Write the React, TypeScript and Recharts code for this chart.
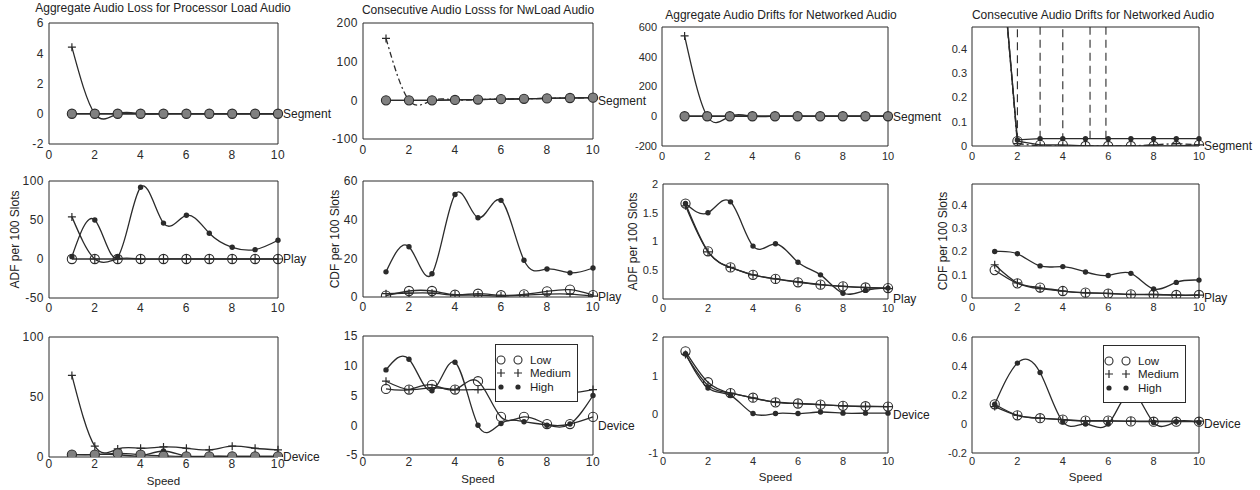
import { Line, LineChart, ReferenceArea, ReferenceLine, XAxis, YAxis } from 'recharts';

const INK = '#2b2b2b';
const FONT = '"Liberation Sans", Arial, Helvetica, sans-serif';

const speed = [1, 2, 3, 4, 5, 6, 7, 8, 9, 10];
const xTicks = [0, 2, 4, 6, 8, 10];
const legendNames = ['Low', 'Medium', 'High'];

// row 1: per segment
const aggLossSegLow = [0, 0, 0, 0, 0, 0, 0, 0, 0, 0];
const aggLossSegMed = [4.4, 0, 0, 0, 0, 0, 0, 0, 0, 0];
const aggLossSegHigh = [0, 0, 0, 0, 0, 0, 0, 0, 0, 0];

const conLossSegLow = [0, 0, 0, 1, 2, 3, 4, 5, 6, 7];
const conLossSegMed = [160, 0, 0, 1, 2, 3, 4, 5, 6, 7];
const conLossSegHigh = [0, 0, 0, 1, 2, 3, 4, 5, 6, 7];

const aggDriftSegLow = [0, 0, 0, 0, 0, 0, 0, 0, 0, 0];
const aggDriftSegMed = [540, 0, 0, 0, 0, 0, 0, 0, 0, 0];
const aggDriftSegHigh = [0, 0, 0, 0, 0, 0, 0, 0, 0, 0];

const conDriftSegLow = [1.1, 0.02, 0.005, 0.005, 0, 0, 0, 0, 0, 0.005];
const conDriftSegMed = [1.1, 0.01, 0, 0, 0, 0, 0, 0.005, 0.01, 0.005];
const conDriftSegHigh = [1.1, 0.025, 0.03, 0.03, 0.03, 0.03, 0.03, 0.03, 0.03, 0.03];
const conDriftSpikeX = [2, 3, 4, 5.2, 5.9];
const conDriftSpikeBase = [0.02, 0.03, 0.02, 0.03, 0.03];

// row 2: per play
const aggLossPlayLow = [0, 0, 0, 0, 0, 0, 0, 0, 0, 0];
const aggLossPlayMed = [54, 0, 0, 0, 0, 0, 0, 0, 0, 0];
const aggLossPlayHigh = [3, 50, 3, 92, 46, 56, 33, 15, 12, 24];

const conLossPlayLow = [0.7, 3.1, 3.1, 1.2, 1.7, 0.9, 1.4, 2.9, 3.8, 1];
const conLossPlayMed = [1.7, 2, 2, 1, 1, 0.5, 1, 1.5, 1.5, 0.5];
const conLossPlayHigh = [13, 26, 12, 53, 41, 50, 19, 14.5, 12.5, 15];

const aggDriftPlayLow = [1.66, 0.83, 0.55, 0.42, 0.35, 0.29, 0.25, 0.22, 0.2, 0.19];
const aggDriftPlayMed = [1.62, 0.82, 0.55, 0.42, 0.35, 0.3, 0.25, 0.22, 0.2, 0.18];
const aggDriftPlayHigh = [1.66, 1.5, 1.69, 0.92, 0.96, 0.64, 0.42, 0.1, 0.15, 0.19];

const conDriftPlayLow = [0.12, 0.063, 0.045, 0.03, 0.023, 0.019, 0.016, 0.015, 0.013, 0.013];
const conDriftPlayMed = [0.143, 0.065, 0.04, 0.03, 0.022, 0.02, 0.015, 0.015, 0.012, 0.012];
const conDriftPlayHigh = [0.2, 0.19, 0.138, 0.135, 0.112, 0.097, 0.106, 0.039, 0.067, 0.077];

// row 3: per device
const aggLossDevLow = [2, 2, 3, 2, 1, 0.5, 0.5, 0.5, 0.5, 0.5];
const aggLossDevMed = [68, 9, 6.7, 7.3, 8.4, 7.3, 6, 9, 7.3, 6];
const aggLossDevHigh = [2, 2, 2, 1, 5, 0.5, 0.5, 0.5, 0.5, 0.5];

const conLossDevLow = [6.1, 6, 6.8, 6, 7.4, 1.4, 1.4, 0.2, 0.2, 1.4];
const conLossDevMed = [7.4, 6, 6.3, 6, 6, 6, 6, 6, 5.5, 6];
const conLossDevHigh = [9.3, 11.1, 5.8, 10.6, 0, 0.3, 0.6, 0, 0.2, 5];

const aggDriftDevLow = [1.63, 0.83, 0.55, 0.43, 0.31, 0.28, 0.25, 0.22, 0.21, 0.2];
const aggDriftDevMed = [1.55, 0.75, 0.55, 0.42, 0.32, 0.28, 0.25, 0.22, 0.2, 0.2];
const aggDriftDevHigh = [1.57, 0.68, 0.49, 0.02, 0.02, 0.02, 0.06, 0.03, 0.03, 0.03];

const conDriftDevLow = [0.136, 0.06, 0.04, 0.03, 0.023, 0.023, 0.018, 0.016, 0.016, 0.016];
const conDriftDevMed = [0.12, 0.06, 0.04, 0.03, 0.02, 0.02, 0.02, 0.02, 0.02, 0.02];
const conDriftDevHigh = [0.136, 0.42, 0.355, 0.016, 0, 0, 0.22, 0.01, 0.016, 0.01];

type Panel = {
  title?: string;
  titleX?: number;
  titleY?: number;
  l: number;
  t: number;
  r: number;
  b: number;
  clipR: number;
  yDomain: [number, number];
  yTicks: number[];
  low: number[];
  med: number[];
  high: number[];
  tag: string;
  yLabel?: string;
  yLabelOffset?: number;
  xLabel?: boolean;
  tickGap: number;
  small?: boolean;
  curve: 'natural' | 'linear';
  medDash?: string;
  filled?: boolean;
  spikeX?: number[];
  spikeBase?: number[];
};

const panels: Panel[] = [
  { title: 'Aggregate Audio Loss for Processor Load Audio', titleX: 163, titleY: 8, l: 49, t: 23, r: 278, b: 144, clipR: 336, yDomain: [-2, 6], yTicks: [-2, 0, 2, 4, 6], low: aggLossSegLow, med: aggLossSegMed, high: aggLossSegHigh, tag: 'Segment', tickGap: 6, curve: 'natural', filled: true },
  { title: 'Consecutive Audio Losss for NwLoad Audio', titleX: 478, titleY: 10, l: 363, t: 23, r: 593, b: 139, clipR: 650, yDomain: [-100, 200], yTicks: [-100, 0, 100, 200], low: conLossSegLow, med: conLossSegMed, high: conLossSegHigh, tag: 'Segment', tickGap: 6, curve: 'natural', medDash: '6 3 2 3', filled: true },
  { title: 'Aggregate Audio Drifts for Networked Audio', titleX: 781, titleY: 15, l: 662, t: 27, r: 888, b: 146, clipR: 946, yDomain: [-200, 600], yTicks: [-200, 0, 200, 400, 600], low: aggDriftSegLow, med: aggDriftSegMed, high: aggDriftSegHigh, tag: 'Segment', tickGap: 6, small: true, curve: 'natural', filled: true },
  { title: 'Consecutive Audio Drifts for Networked Audio', titleX: 1093, titleY: 15, l: 972, t: 27, r: 1199, b: 146, clipR: 1260, yDomain: [0, 0.49], yTicks: [0, 0.1, 0.2, 0.3, 0.4], low: conDriftSegLow, med: conDriftSegMed, high: conDriftSegHigh, tag: 'Segment', tickGap: 6, small: true, curve: 'linear', medDash: '6 3 2 3', spikeX: conDriftSpikeX, spikeBase: conDriftSpikeBase },

  { l: 49, t: 181, r: 278, b: 298, clipR: 336, yDomain: [-50, 100], yTicks: [-50, 0, 50, 100], low: aggLossPlayLow, med: aggLossPlayMed, high: aggLossPlayHigh, tag: 'Play', yLabel: 'ADF per 100 Slots', yLabelOffset: 10, tickGap: 5, curve: 'natural' },
  { l: 363, t: 181, r: 593, b: 297, clipR: 650, yDomain: [0, 60], yTicks: [0, 20, 40, 60], low: conLossPlayLow, med: conLossPlayMed, high: conLossPlayHigh, tag: 'Play', yLabel: 'CDF per 100 Slots', yLabelOffset: 16, tickGap: 5, curve: 'natural' },
  { l: 663, t: 184, r: 888, b: 299, clipR: 946, yDomain: [0, 2], yTicks: [0, 0.5, 1, 1.5, 2], low: aggDriftPlayLow, med: aggDriftPlayMed, high: aggDriftPlayHigh, tag: 'Play', yLabel: 'ADF per 100 Slots', yLabelOffset: 14, tickGap: 5, small: true, curve: 'natural' },
  { l: 972, t: 184, r: 1199, b: 298, clipR: 1260, yDomain: [0, 0.49], yTicks: [0, 0.1, 0.2, 0.3, 0.4], low: conDriftPlayLow, med: conDriftPlayMed, high: conDriftPlayHigh, tag: 'Play', yLabel: 'CDF per 100 Slots', yLabelOffset: 15, tickGap: 5, small: true, curve: 'natural' },

  { l: 49, t: 337, r: 278, b: 457, clipR: 336, yDomain: [0, 100], yTicks: [0, 50, 100], low: aggLossDevLow, med: aggLossDevMed, high: aggLossDevHigh, tag: 'Device', xLabel: true, tickGap: 2, curve: 'natural', filled: true },
  { l: 363, t: 336, r: 593, b: 455, clipR: 650, yDomain: [-5, 15], yTicks: [-5, 0, 5, 10, 15], low: conLossDevLow, med: conLossDevMed, high: conLossDevHigh, tag: 'Device', xLabel: true, tickGap: 2, curve: 'natural' },
  { l: 663, t: 337, r: 888, b: 453, clipR: 946, yDomain: [-1, 2], yTicks: [-1, 0, 1, 2], low: aggDriftDevLow, med: aggDriftDevMed, high: aggDriftDevHigh, tag: 'Device', xLabel: true, tickGap: 4, small: true, curve: 'natural' },
  { l: 972, t: 337, r: 1199, b: 453, clipR: 1260, yDomain: [-0.2, 0.6], yTicks: [-0.2, 0, 0.2, 0.4, 0.6], low: conDriftDevLow, med: conDriftDevMed, high: conDriftDevHigh, tag: 'Device', xLabel: true, tickGap: 4, small: true, curve: 'natural' },
];

const tickLarge = { fill: '#2a2a2a', fontSize: 12, fontFamily: FONT, letterSpacing: 0.5 };
const tickSmall = { fill: '#2a2a2a', fontSize: 11, fontFamily: FONT };
const labelText = { fill: '#222', fontSize: 12, fontFamily: FONT };

const circleDot = (fill: string) => (p: any) => (
  <circle key={`c${p.index}`} cx={p.cx} cy={p.cy} r={4.6} fill={fill} stroke={INK} strokeWidth={1.1} />
);
const plusDot = (p: any) => (
  <path key={`p${p.index}`} d={`M${p.cx - 4},${p.cy}h8M${p.cx},${p.cy - 4}v8`} stroke={INK} strokeWidth={1.2} />
);
const starDot = (p: any) => <circle key={`s${p.index}`} cx={p.cx} cy={p.cy} r={2.7} fill={INK} />;

function PanelChart({ p }: { p: Panel }) {
  const YW = 44;
  const TOP = 6;
  const XH = 32;
  const x0 = p.l - YW;
  const width = p.clipR - x0;
  const height = TOP + (p.b - p.t) + XH;
  const rows = speed.map((s, i) => ({ speed: s, low: p.low[i], med: p.med[i], high: p.high[i] }));
  const tick = p.small ? tickSmall : tickLarge;
  return (
    <div style={{ position: 'absolute', left: x0, top: p.t - TOP }}>
      <LineChart width={width} height={height} data={rows} margin={{ top: TOP, right: p.clipR - p.r, bottom: 0, left: 0 }}>
        <XAxis
          dataKey="speed"
          type="number"
          domain={[0, 10]}
          ticks={xTicks}
          interval={0}
          height={XH}
          axisLine={false}
          tickLine={false}
          tickSize={0}
          tickMargin={p.tickGap}
          tick={tick}
          label={
            p.xLabel
              ? { value: 'Speed', position: 'insideBottom', offset: 4, ...labelText, fontSize: 11.5, style: { fill: '#222' } }
              : undefined
          }
        />
        <YAxis
          type="number"
          domain={p.yDomain}
          ticks={p.yTicks}
          interval={0}
          allowDataOverflow
          width={YW}
          axisLine={false}
          tickLine={false}
          tickSize={0}
          tickMargin={5}
          tick={tick}
          label={
            p.yLabel
              ? { value: p.yLabel, angle: -90, position: 'insideLeft', offset: p.yLabelOffset, ...labelText, style: { textAnchor: 'middle', fill: '#222' } }
              : undefined
          }
        />
        <ReferenceArea x1={0} x2={10} y1={p.yDomain[0]} y2={p.yDomain[1]} fill="none" stroke={INK} strokeWidth={1} />
        {p.spikeX &&
          p.spikeX.map((x, i) => (
            <ReferenceLine
              key={`sp${i}`}
              segment={[{ x, y: p.spikeBase![i] }, { x, y: p.yDomain[1] }]}
              stroke={INK}
              strokeWidth={1.1}
              strokeDasharray="8 5"
            />
          ))}
        <ReferenceLine y={0} stroke="transparent" label={{ value: p.tag, position: 'right', offset: 5, ...labelText }} />
        <Line type={p.curve} dataKey="high" stroke={INK} strokeWidth={1.3} dot={starDot} activeDot={false} isAnimationActive={false} />
        <Line type={p.curve} dataKey="med" stroke={INK} strokeWidth={1.3} strokeDasharray={p.medDash} dot={plusDot} activeDot={false} isAnimationActive={false} />
        <Line type={p.curve} dataKey="low" stroke={INK} strokeWidth={1.3} dot={circleDot(p.filled ? '#808080' : 'none')} activeDot={false} isAnimationActive={false} />
      </LineChart>
    </div>
  );
}

function LegendBox({ left, top }: { left: number; top: number }) {
  return (
    <div
      style={{
        position: 'absolute',
        left,
        top,
        width: 83,
        height: 58,
        boxSizing: 'border-box',
        border: `1px solid ${INK}`,
        background: '#fff',
        paddingTop: 8,
        fontSize: 11.5,
        color: '#222',
      }}
    >
      {legendNames.map((name, i) => (
        <div key={name} style={{ display: 'flex', alignItems: 'center', height: 13.5 }}>
          <svg width={32} height={12} style={{ flex: 'none' }}>
            {[5, 22].map((cx) =>
              i === 0 ? (
                <circle key={cx} cx={cx} cy={6} r={4} fill="none" stroke={INK} strokeWidth={1.1} />
              ) : i === 1 ? (
                <path key={cx} d={`M${cx - 4},6h8M${cx},2v8`} stroke={INK} strokeWidth={1.2} />
              ) : (
                <circle key={cx} cx={cx} cy={6} r={2.6} fill={INK} />
              )
            )}
          </svg>
          <span style={{ marginLeft: 2 }}>{name}</span>
        </div>
      ))}
    </div>
  );
}

export default function App() {
  return (
    <div style={{ position: 'fixed', left: 0, top: 0, width: 1260, height: 490, background: '#fff', fontFamily: FONT, overflow: 'hidden' }}>
      {panels.map((p, i) => (
        <PanelChart key={i} p={p} />
      ))}
      {panels
        .filter((p) => p.title)
        .map((p) => (
          <div
            key={p.title}
            style={{
              position: 'absolute',
              left: p.titleX,
              top: (p.titleY ?? 10) - 7,
              transform: 'translateX(-50%)',
              whiteSpace: 'nowrap',
              fontSize: 12,
              lineHeight: '14px',
              color: '#222',
            }}
          >
            {p.title}
          </div>
        ))}
      <LegendBox left={495} top={344} />
      <LegendBox left={1103} top={345} />
    </div>
  );
}
